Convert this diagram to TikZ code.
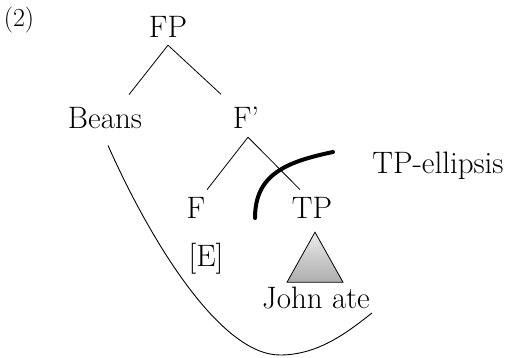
\documentclass[tikz,border=0pt]{standalone}
\usepackage{fontspec}
\usetikzlibrary{calc}

\begin{document}
\begin{tikzpicture}[x=1pt, y=-1pt,
  cat/.style={anchor=base, inner sep=0pt, font=\fontsize{31}{36}\selectfont},
  branch/.style={line width=0.8pt},
  elide/.style={line width=4pt, line cap=round},
  tri/.style={draw, line width=0.8pt, top color=black!8, bottom color=black!32},
]
  \useasboundingbox (0,0) rectangle (509,357);

  \node[anchor=base, inner sep=0pt, font=\fontsize{26}{30}\selectfont] (num) at (19,26) {(2)};

  % tree
  \node[cat] (FP) at (168,37) {FP};
  \node[cat] (beans) at (105,128) {Beans};
  \node[cat] (Fbar) at (246,128) {F’};
  \node[cat] (F) at (196,218) {F};
  \node[cat] (TP) at (312,218) {TP};
  \node[cat] (E) at (206,266) {[E]};
  \node[cat] (john) at (316,308) {John ate};
  \node[cat] (ellipsis) at (438,173) {TP-ellipsis};

  \draw[branch] ([yshift=-8]FP.south) -- ([shift={(24,-12)}]beans.north);
  \draw[branch] ([yshift=-8]FP.south) -- ([shift={(-25,-12)}]Fbar.north);
  \draw[branch] ([shift={(2,9)}]Fbar.south) -- ([shift={(11,-7)}]F.north);
  \draw[branch] ([shift={(2,9)}]Fbar.south) -- ([shift={(-12,-7)}]TP.north);

  % triangle under TP
  \draw[tri] ([shift={(3,14)}]TP.south) -- ++(-28,50) -- ++(56,0) -- cycle;

  % ellipsis boundary
  \draw[elide] (255,218) .. controls (255,175) and (285,162) .. (333,152);

  % movement curve
  \draw[line width=0.9pt] ([shift={(3,17)}]beans.south) .. controls (150,240) and (220,355) .. (280,355)
    .. controls (320,355) and (350,330) .. (372,313);
\end{tikzpicture}
\end{document}
